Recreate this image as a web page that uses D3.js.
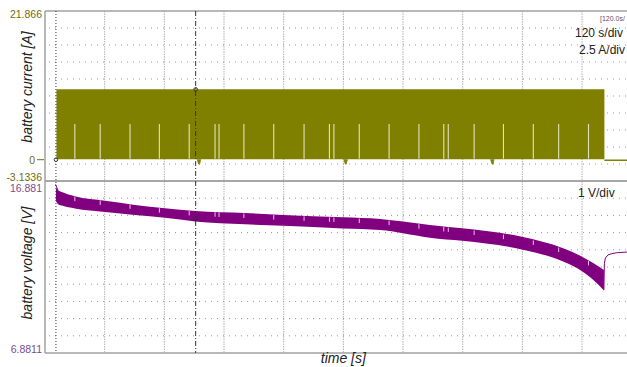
<!DOCTYPE html>
<html>
<head>
<meta charset="utf-8">
<script src="https://cdn.jsdelivr.net/npm/d3@7"></script>
<style>
    body { margin: 0; background: #fff; }
    svg { display: block; font-family: "Liberation Sans", Arial, sans-serif; }
    .axis-title { font-style: italic; font-size: 14px; fill: #222; }
    .scale-text { font-size: 12px; fill: #222; }
</style>
</head>
<body>
<div id="chart"></div>
<script>
// Data
const timeRange = [0, 1200];              // 120 s/div, 10 divisions
const currentRange = [-3.1336, 21.866];   // 2.5 A/div
const voltageRange = [6.8811, 16.881];    // 1 V/div
const currentTickLabels = ["21.866", "0", "-3.1336"];
const voltageTickLabels = ["16.881", "6.8811"];

// current: pulsed band between low and high while the load is on
const currentOnOff = [23, 1125];
const currentHigh = 10.35;
const currentLow = 0.05;
const currentOffLevel = -0.08;
const gapTimes = [60, 111, 171, 230, 290, 342, 350, 400, 460, 521, 572, 581, 632, 692, 752, 802, 811, 863, 922, 982, 1033, 1093];
const gapTop = 5.25;
const dipTimes = [310, 605, 900];
const dipDepth = -0.65;

// voltage band envelope
const vTime = [22, 26, 34, 60, 121, 241, 302, 402, 479, 599, 674, 720, 774, 839, 959, 1042, 1080, 1100, 1124];
const vTop = [16.47, 16.36, 16.24, 16.0, 15.74, 15.29, 15.14, 15.02, 14.90, 14.77, 14.67, 14.52, 14.32, 14.13, 13.64, 12.97, 12.48, 12.15, 11.71];
const vBottom = [15.72, 15.55, 15.45, 15.28, 15.08, 14.74, 14.53, 14.36, 14.28, 14.12, 14.03, 13.85, 13.58, 13.40, 12.90, 12.20, 11.64, 11.20, 10.52];
// voltage recovery after the load is switched off
const recTime = [1124, 1125, 1127, 1132, 1140, 1150, 1170, 1200];
const recVolt = [10.55, 12.1, 12.4, 12.58, 12.66, 12.71, 12.75, 12.77];
// initial spike at switch-on
const spikeTime = [21, 26];
const spikeVolt = [16.68, 16.36];

// cursors
const cursorTimes = [22, 303];

const width = 627, height = 367;
const plotLeft = 45, plotRight = 641.7, plotTop = 11, plotMid = 181, plotBottom = 353;
const olive = "#808000", purple = "#800080";

const svg = d3.select("#chart").append("svg")
    .attr("width", width)
    .attr("height", height);

const x = d3.scaleLinear().domain(timeRange).range([plotLeft, plotRight]);
const yI = d3.scaleLinear().domain(currentRange).range([plotMid, plotTop]);
const yV = d3.scaleLinear().domain(voltageRange).range([plotBottom, plotMid]);
const divs = d3.range(1, 10);

// grid
const grid = svg.append("g");
grid.selectAll(".vgrid").data(divs).enter().append("line")
    .attr("x1", (d) => x(d * 120)).attr("x2", (d) => x(d * 120))
    .attr("y1", plotTop).attr("y2", plotBottom)
    .attr("stroke", "#b0b0b0").attr("stroke-width", 1)
    .attr("stroke-dasharray", "1.5,1");
grid.selectAll(".hgridI").data(divs).enter().append("line")
    .attr("x1", plotLeft + 4).attr("x2", plotRight)
    .attr("y1", (d) => yI(currentRange[1] - d * 2.5)).attr("y2", (d) => yI(currentRange[1] - d * 2.5))
    .attr("stroke", "#999").attr("stroke-width", 1)
    .attr("stroke-dasharray", "1,5");
grid.selectAll(".hgridV").data(divs).enter().append("line")
    .attr("x1", plotLeft + 4).attr("x2", plotRight)
    .attr("y1", (d) => yV(voltageRange[1] - d)).attr("y2", (d) => yV(voltageRange[1] - d))
    .attr("stroke", "#999").attr("stroke-width", 1)
    .attr("stroke-dasharray", "1,5");

// current band
const onPts = currentOnOff.map((t) => ({ t }));
svg.append("path")
    .datum(onPts)
    .attr("fill", olive)
    .attr("d", d3.area().x((d) => x(d.t)).y0(yI(currentLow)).y1(yI(currentHigh)));
svg.append("path")
    .datum([{ t: currentOnOff[1] }, { t: timeRange[1] }])
    .attr("fill", "none").attr("stroke", olive).attr("stroke-width", 1.5)
    .attr("d", d3.line().x((d) => x(d.t)).y(yI(currentOffLevel)));
svg.selectAll(".dip").data(dipTimes).enter().append("path")
    .attr("fill", olive).attr("stroke", olive).attr("stroke-width", 0.8)
    .attr("d", (t) => d3.line()([[x(t - 4), yI(0.05)], [x(t - 1), yI(dipDepth)], [x(t + 1), yI(dipDepth)], [x(t + 3), yI(0.05)]]));
svg.selectAll(".gap").data(gapTimes).enter().append("line")
    .attr("x1", (t) => x(t)).attr("x2", (t) => x(t))
    .attr("y1", yI(gapTop)).attr("y2", yI(currentLow + 0.1))
    .attr("stroke", "#e2e2b8").attr("stroke-width", 1.1);

// voltage band
const vData = vTime.map((t, i) => ({ t, top: vTop[i], bot: vBottom[i] }));
const vArea = d3.area().curve(d3.curveMonotoneX)
    .x((d) => x(d.t)).y0((d) => yV(d.bot)).y1((d) => yV(d.top));
svg.append("path")
    .datum(vData)
    .attr("fill", purple)
    .attr("d", vArea);
const topAt = d3.scaleLinear().domain(vTime).range(vTop);
svg.selectAll(".vgap").data(gapTimes).enter().append("line")
    .attr("x1", (t) => x(t)).attr("x2", (t) => x(t))
    .attr("y1", (t) => yV(topAt(t)) + 0.5).attr("y2", (t) => yV(topAt(t)) + 5)
    .attr("stroke", "#e6c6e6").attr("stroke-width", 1);
svg.append("path")
    .datum(recTime.map((t, i) => [t, recVolt[i]]))
    .attr("fill", "none").attr("stroke", purple).attr("stroke-width", 1)
    .attr("d", d3.line().x((d) => x(d[0])).y((d) => yV(d[1])));
svg.append("path")
    .datum(spikeTime.map((t, i) => [t, spikeVolt[i]]))
    .attr("fill", "none").attr("stroke", purple).attr("stroke-width", 1)
    .attr("d", d3.line().x((d) => x(d[0])).y((d) => yV(d[1])));

// frame
const frame = svg.append("g").attr("stroke", "#a0a0a0").attr("fill", "none");
frame.append("line").attr("x1", plotLeft).attr("x2", width).attr("y1", plotTop).attr("y2", plotTop).attr("stroke-width", 1.5);
frame.append("line").attr("x1", plotLeft).attr("x2", width).attr("y1", plotMid).attr("y2", plotMid).attr("stroke-width", 1.5).attr("stroke", "#8a8a8a");
frame.append("line").attr("x1", plotLeft).attr("x2", width).attr("y1", plotBottom).attr("y2", plotBottom).attr("stroke-width", 1.5);
frame.append("line").attr("x1", plotLeft).attr("x2", plotLeft).attr("y1", plotTop).attr("y2", plotBottom).attr("stroke-width", 1.5);

// cursors
svg.append("line")
    .attr("x1", x(cursorTimes[0])).attr("x2", x(cursorTimes[0]))
    .attr("y1", plotTop).attr("y2", plotBottom)
    .attr("stroke", "#333").attr("stroke-width", 1).attr("stroke-dasharray", "1,2");
svg.append("line")
    .attr("x1", x(cursorTimes[1])).attr("x2", x(cursorTimes[1]))
    .attr("y1", plotTop).attr("y2", plotBottom)
    .attr("stroke", "#333").attr("stroke-width", 1).attr("stroke-dasharray", "5,2,1,2");
const markers = [
    [cursorTimes[0], yI(0)],
    [cursorTimes[1], yI(currentHigh)],
    [cursorTimes[1], yV(topAt(cursorTimes[1]) - 0.45)]
];
svg.selectAll(".marker").data(markers).enter().append("circle")
    .attr("cx", (d) => x(d[0])).attr("cy", (d) => d[1]).attr("r", 1.8)
    .attr("fill", "none").attr("stroke", "#333").attr("stroke-width", 1);

// scale labels
svg.append("text").attr("x", 42).attr("y", 18).attr("text-anchor", "end")
    .attr("font-size", 10.5).attr("fill", "#6e6e10").text(currentTickLabels[0]);
svg.append("text").attr("x", 35).attr("y", yI(0) + 4).attr("text-anchor", "end")
    .attr("font-size", 10.5).attr("fill", "#6e6e10").text(currentTickLabels[1]);
svg.append("line").attr("x1", 37).attr("x2", 44).attr("y1", yI(0)).attr("y2", yI(0))
    .attr("stroke", "#6e6e10").attr("stroke-width", 1);
svg.append("text").attr("x", 42).attr("y", 180.5).attr("text-anchor", "end")
    .attr("font-size", 10.5).attr("fill", "#6e6e10").text(currentTickLabels[2]);
svg.append("text").attr("x", 42).attr("y", 192).attr("text-anchor", "end")
    .attr("font-size", 10.5).attr("fill", "#7d4b8c").text(voltageTickLabels[0]);
svg.append("text").attr("x", 42).attr("y", 353).attr("text-anchor", "end")
    .attr("font-size", 10.5).attr("fill", "#7d4b8c").text(voltageTickLabels[1]);

// axis titles
svg.append("text").attr("class", "axis-title")
    .attr("transform", "translate(32,87) rotate(-90)")
    .attr("text-anchor", "middle").text("battery current [A]");
svg.append("text").attr("class", "axis-title")
    .attr("transform", "translate(32,263) rotate(-90)")
    .attr("text-anchor", "middle").text("battery voltage [V]");
svg.append("text").attr("class", "axis-title")
    .attr("x", (plotLeft + plotRight) / 2).attr("y", 363)
    .attr("text-anchor", "middle").text("time [s]");

// scale info
svg.append("text").attr("x", 600).attr("y", 21).attr("font-size", 7).attr("fill", "#6a4a6a").text("[120.0s/");
svg.append("text").attr("class", "scale-text").attr("x", 575).attr("y", 37).text("120 s/div");
svg.append("text").attr("class", "scale-text").attr("x", 579).attr("y", 54).text("2.5 A/div");
svg.append("text").attr("class", "scale-text").attr("x", 578).attr("y", 197).text("1 V/div");
</script>
</body>
</html>
